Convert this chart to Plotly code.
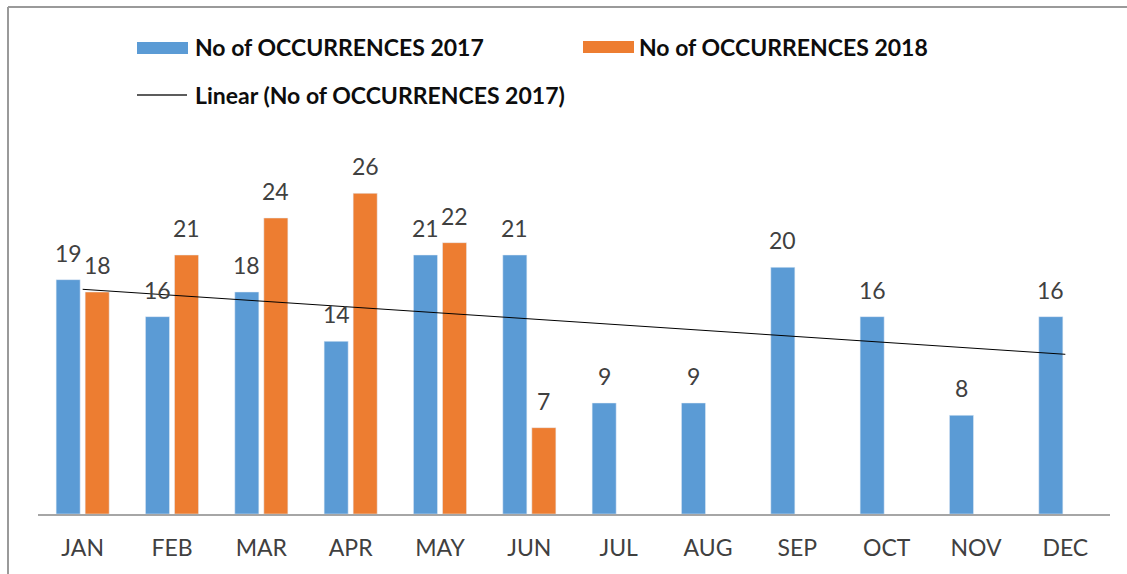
import numpy as np
import plotly.graph_objects as go

months = ["JAN", "FEB", "MAR", "APR", "MAY", "JUN", "JUL", "AUG", "SEP", "OCT", "NOV", "DEC"]
occ_2017 = [19, 16, 18, 14, 21, 21, 9, 9, 20, 16, 8, 16]
occ_2018 = [18, 21, 24, 26, 22, 7, None, None, None, None, None, None]
name_2017 = "No of OCCURRENCES 2017"
name_2018 = "No of OCCURRENCES 2018"
name_trend = "Linear (No of OCCURRENCES 2017)"

BLUE = "#5B9BD5"
ORANGE = "#ED7D31"
FONT = "Lato"

W, H = 1127, 574
ML, MR, MT, MB = 38, 17, 144, 60
PW, PH = W - ML - MR, H - MT - MB


def px(x):
    return (x - ML) / PW


def py(y):
    return (H - MB - y) / PH


# linear trendline from the 2017 series
idx = np.arange(1, len(months) + 1)
slope, intercept = np.polyfit(idx, occ_2017, 1)
trend = list(slope * idx + intercept)

fig = go.Figure()
fig.add_trace(go.Bar(x=months, y=occ_2017, name=name_2017, marker_color=BLUE, showlegend=False))
fig.add_trace(go.Bar(x=months, y=occ_2018, name=name_2018, marker_color=ORANGE, showlegend=False))
fig.add_trace(go.Scatter(x=months, y=trend, name=name_trend, mode="lines",
                         line=dict(color="#000000", width=1), showlegend=False))

annotations = []
off = 0.162
lab_font = dict(family=FONT, size=23, color="#404040")
for i, v in enumerate(occ_2017):
    if v is not None:
        annotations.append(dict(x=i - off, y=v, xref="x", yref="y", text=str(v), showarrow=False,
                                yanchor="bottom", yshift=11, font=lab_font))
for i, v in enumerate(occ_2018):
    if v is not None:
        annotations.append(dict(x=i + off, y=v, xref="x", yref="y", text=str(v), showarrow=False,
                                yanchor="bottom", yshift=11, font=lab_font))

# legend (manual, Excel-like)
leg_font = dict(family=FONT, size=23, color="#0d0d0d")
for x, y, t in [(193, 47, name_2017), (637, 47, name_2018), (193, 95, name_trend)]:
    annotations.append(dict(x=px(x), y=py(y), xref="paper", yref="paper", text="<b>" + t + "</b>",
                            showarrow=False, xanchor="left", yanchor="middle", font=leg_font))

shapes = [
    dict(type="rect", xref="paper", yref="paper", x0=px(137), x1=px(188), y0=py(54), y1=py(42),
         fillcolor=BLUE, line=dict(width=0)),
    dict(type="rect", xref="paper", yref="paper", x0=px(583), x1=px(634), y0=py(53), y1=py(41),
         fillcolor=ORANGE, line=dict(width=0)),
    dict(type="line", xref="paper", yref="paper", x0=px(137), x1=px(187), y0=py(95), y1=py(95),
         line=dict(color="#262626", width=1.5)),
    # chart frame
    dict(type="line", xref="paper", yref="paper", x0=px(8), x1=px(W + 2), y0=py(7), y1=py(7),
         line=dict(color="#9a9a9a", width=2)),
    dict(type="line", xref="paper", yref="paper", x0=px(8), x1=px(8), y0=py(7), y1=py(H + 2),
         line=dict(color="#9a9a9a", width=2)),
]

fig.update_layout(
    width=W, height=H,
    margin=dict(l=ML, r=MR, t=MT, b=MB),
    paper_bgcolor="white", plot_bgcolor="white",
    barmode="group", bargap=0.35, bargroupgap=0.172,
    showlegend=False,
    annotations=annotations, shapes=shapes,
    font=dict(family=FONT, color="#404040"),
)
fig.update_xaxes(showline=True, linecolor="#a6a6a6", linewidth=1.5, ticks="", showgrid=False,
                 tickfont=dict(family=FONT, size=23, color="#404040"), ticklabelstandoff=13)
fig.update_yaxes(visible=False, range=[0, 30], showgrid=False)

fig.write_html("out.html", config={"displayModeBar": False},
               post_script="document.body.style.margin='0';document.body.style.overflow='hidden';")
